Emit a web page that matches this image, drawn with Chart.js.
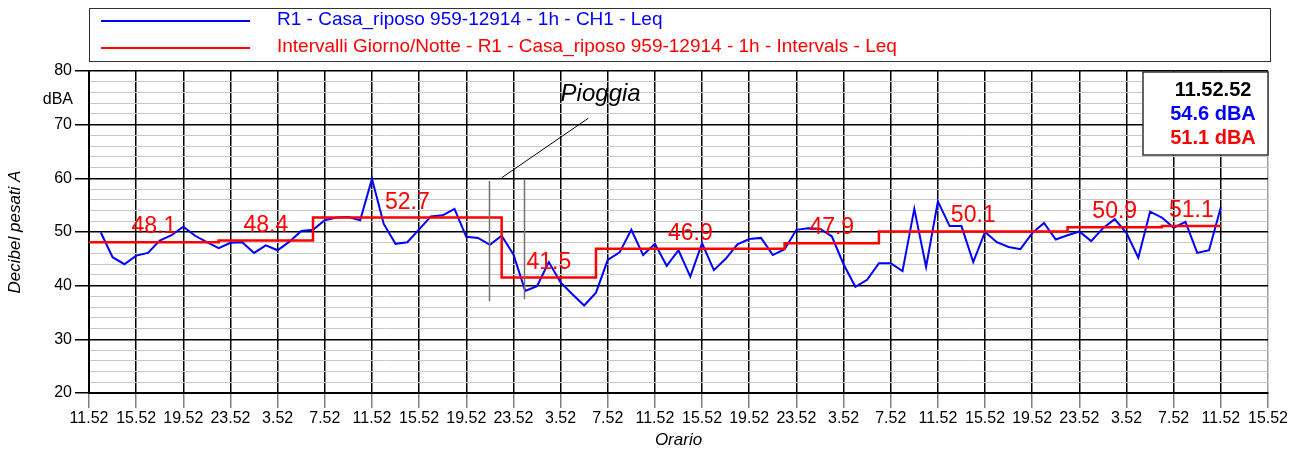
<!DOCTYPE html>
<html>
<head>
<meta charset="utf-8">
<script src="https://cdn.jsdelivr.net/npm/chart.js@4.4.1/dist/chart.umd.min.js"></script>
<style>
  html, body { margin: 0; padding: 0; background: #fff; }
</style>
</head>
<body>
<canvas id="chart" width="1300" height="452"></canvas>
<script>
// asse x: ore dall'inizio misura (11.52), tick ogni 4 ore
const xTickLabels = ['11.52', '15.52', '19.52', '23.52', '3.52', '7.52',
    '11.52', '15.52', '19.52', '23.52', '3.52', '7.52',
    '11.52', '15.52', '19.52', '23.52', '3.52', '7.52',
    '11.52', '15.52', '19.52', '23.52', '3.52', '7.52',
    '11.52', '15.52'];

// asse y: griglia ogni 2 dB, etichette ogni 10
const yGridValues = [20, 22, 24, 26, 28, 30, 32, 34, 36, 38, 40, 42, 44, 46, 48, 50,
    52, 54, 56, 58, 60, 62, 64, 66, 68, 70, 72, 74, 76, 78, 80];

// Leq orario CH1 (dBA), primo valore alle 12.52
const leqValues = [
    49.9, 45.3, 44.0, 45.6, 46.1, 48.4, 49.4, 51.0, 49.3, 48.1, 47.0, 48.0,
    48.1, 46.1, 47.5, 46.6, 48.2, 50.2, 50.4, 52.2, 52.7, 52.8, 52.2, 59.9,
    51.5, 47.8, 48.1, 50.5, 52.9, 53.1, 54.3, 49.1, 48.9, 47.6, 49.3, 45.8,
    39.0, 39.9, 44.4, 40.6, 38.4, 36.3, 38.7, 44.8, 46.2, 50.4, 45.7, 47.8,
    43.7, 46.6, 41.7, 47.9, 42.9, 45.0, 47.7, 48.7, 48.9, 45.7, 46.8, 50.4,
    50.7, 50.6, 49.2, 44.0, 39.8, 41.1, 44.2, 44.2, 42.7, 54.3, 43.5, 55.7,
    51.1, 51.1, 44.4, 50.0, 48.1, 47.2, 46.8, 49.8, 51.7, 48.6, 49.4, 50.1,
    48.3, 50.7, 52.4, 49.8, 45.2, 53.8, 52.7, 50.8, 51.9, 46.1, 46.6, 54.6
];
const firstHour = 1;

// intervalli giorno/notte (ore di inizio) e Leq di intervallo
const intervalStarts = [0, 11, 19, 35, 43, 59, 67, 83, 91];
const intervalValues = [48.1, 48.4, 52.7, 41.5, 46.9, 47.9, 50.1, 50.9, 51.1];
const intervalEnd = 96;

// pioggia
const rainMarks = [33.9, 36.9];

const legendLabels = [
    'R1 - Casa_riposo 959-12914 - 1h - CH1 - Leq',
    'Intervalli Giorno/Notte - R1 - Casa_riposo 959-12914 - 1h - Intervals - Leq'
];
const cursorTime = '11.52.52';
const cursorValues = ['54.6 dBA', '51.1 dBA'];

const BLUE = '#0000ff';
const RED = '#ff0000';
const FONT = "'Liberation Sans', Arial, sans-serif";

const blueData = leqValues.map((v, i) => ({ x: firstHour + i, y: v }));
const redData = intervalStarts.map((s, i) => ({ x: s, y: intervalValues[i] }));
redData.push({ x: intervalEnd, y: intervalValues[intervalValues.length - 1] });

const overlay = {
    id: 'overlay',
    afterDraw(chart) {
        const ctx = chart.ctx;
        const xs = chart.scales.x, ys = chart.scales.y;
        ctx.save();

        // legenda
        ctx.fillStyle = '#fff';
        ctx.fillRect(89, 8, 1181, 53);
        ctx.strokeStyle = '#333';
        ctx.lineWidth = 1;
        ctx.strokeRect(89.5, 8.5, 1181, 53);
        const rows = [21, 48];
        [BLUE, RED].forEach((c, i) => {
            ctx.strokeStyle = c;
            ctx.lineWidth = 2;
            ctx.beginPath();
            ctx.moveTo(101, rows[i]);
            ctx.lineTo(250, rows[i]);
            ctx.stroke();
            ctx.fillStyle = c;
            ctx.font = '19px ' + FONT;
            ctx.textBaseline = 'middle';
            ctx.textAlign = 'left';
            ctx.fillText(legendLabels[i], 277, rows[i] - 1);
        });

        // unità
        ctx.fillStyle = '#000';
        ctx.font = '16px ' + FONT;
        ctx.textAlign = 'right';
        ctx.textBaseline = 'alphabetic';
        ctx.fillText('dBA', 73, 104);

        // etichette intervalli
        ctx.font = '23px ' + FONT;
        ctx.textAlign = 'center';
        ctx.fillStyle = RED;
        intervalStarts.forEach((s, i) => {
            const e = i < intervalStarts.length - 1 ? intervalStarts[i + 1] : intervalEnd;
            const px = xs.getPixelForValue((s + e) / 2);
            const py = ys.getPixelForValue(intervalValues[i]) - 9;
            ctx.fillText(intervalValues[i].toFixed(1), px, py);
        });

        // pioggia
        ctx.strokeStyle = '#707070';
        ctx.lineWidth = 1.5;
        [[rainMarks[0], 59.5, 37.1], [rainMarks[1], 59.9, 37.5]].forEach(([h, a, b]) => {
            const px = Math.round(xs.getPixelForValue(h)) + 0.5;
            ctx.beginPath();
            ctx.moveTo(px, ys.getPixelForValue(a));
            ctx.lineTo(px, ys.getPixelForValue(b));
            ctx.stroke();
        });
        ctx.strokeStyle = '#000';
        ctx.lineWidth = 1;
        ctx.beginPath();
        ctx.moveTo(xs.getPixelForValue(35.0), ys.getPixelForValue(60.1));
        ctx.lineTo(xs.getPixelForValue(42.35), ys.getPixelForValue(71.2));
        ctx.stroke();
        ctx.fillStyle = '#000';
        ctx.font = 'italic 24px ' + FONT;
        ctx.textAlign = 'left';
        ctx.fillText('Pioggia', xs.getPixelForValue(40.0), ys.getPixelForValue(74.4));

        // box cursore
        ctx.fillStyle = '#fff';
        ctx.fillRect(1143, 72, 125, 83);
        ctx.strokeStyle = '#333';
        ctx.lineWidth = 1.5;
        ctx.strokeRect(1143, 72, 125, 83);
        ctx.font = 'bold 20px ' + FONT;
        ctx.textAlign = 'center';
        ctx.fillStyle = '#000';
        ctx.fillText(cursorTime, 1213, 96);
        ctx.fillStyle = BLUE;
        ctx.fillText(cursorValues[0], 1213, 120);
        ctx.fillStyle = RED;
        ctx.fillText(cursorValues[1], 1213, 144);

        ctx.restore();
    }
};

new Chart(document.getElementById('chart'), {
    type: 'line',
    data: {
        datasets: [{
            label: legendLabels[0],
            data: blueData,
            borderColor: BLUE,
            borderWidth: 2,
            pointRadius: 0,
            tension: 0,
            order: 1
        }, {
            label: legendLabels[1],
            data: redData,
            borderColor: RED,
            borderWidth: 2.5,
            pointRadius: 0,
            stepped: true,
            order: 0
        }]
    },
    options: {
        responsive: false,
        devicePixelRatio: 1,
        animation: false,
        layout: { padding: { top: 71, right: 32, left: 0, bottom: 0 } },
        plugins: { legend: { display: false }, tooltip: { enabled: false } },
        scales: {
            x: {
                type: 'linear',
                min: 0,
                max: 100,
                afterFit: s => { s.height = 59; },
                afterBuildTicks: s => { s.ticks = xTickLabels.map((_, i) => ({ value: i * 4 })); },
                ticks: {
                    autoSkip: false,
                    maxRotation: 0,
                    padding: 1,
                    color: '#000',
                    font: { family: FONT, size: 16 },
                    callback: (v, i) => xTickLabels[i]
                },
                grid: {
                    color: c => c.tick && c.tick.value === 100 ? '#a0a0a0' : '#000',
                    lineWidth: 1.5,
                    tickLength: 15,
                    tickColor: '#808080'
                },
                border: { color: '#000', width: 2 },
                title: {
                    display: true,
                    text: 'Orario',
                    color: '#000',
                    font: { family: FONT, size: 17, style: 'italic' },
                    padding: { top: 0, bottom: 2 }
                }
            },
            y: {
                min: 20,
                max: 80,
                afterFit: s => { s.width = 89; },
                afterBuildTicks: s => { s.ticks = yGridValues.map(v => ({ value: v })); },
                ticks: {
                    autoSkip: false,
                    padding: 3,
                    color: '#000',
                    font: { family: FONT, size: 16 },
                    callback: v => (v % 10 === 0 ? String(v) : '')
                },
                grid: {
                    color: c => (c.tick && c.tick.value % 10 === 0 ? '#000' : '#c8c8c8'),
                    lineWidth: c => (c.tick && c.tick.value % 10 === 0 ? 1.5 : 1),
                    tickLength: 14,
                    tickColor: c => (c.tick && c.tick.value % 10 === 0 ? '#000' : 'rgba(0,0,0,0)')
                },
                border: { color: '#000', width: 2 },
                title: {
                    display: true,
                    text: 'Decibel pesati A',
                    color: '#000',
                    font: { family: FONT, size: 17, style: 'italic' },
                    padding: { top: 5, bottom: 0 }
                }
            }
        }
    },
    plugins: [overlay]
});
</script>
</body>
</html>
